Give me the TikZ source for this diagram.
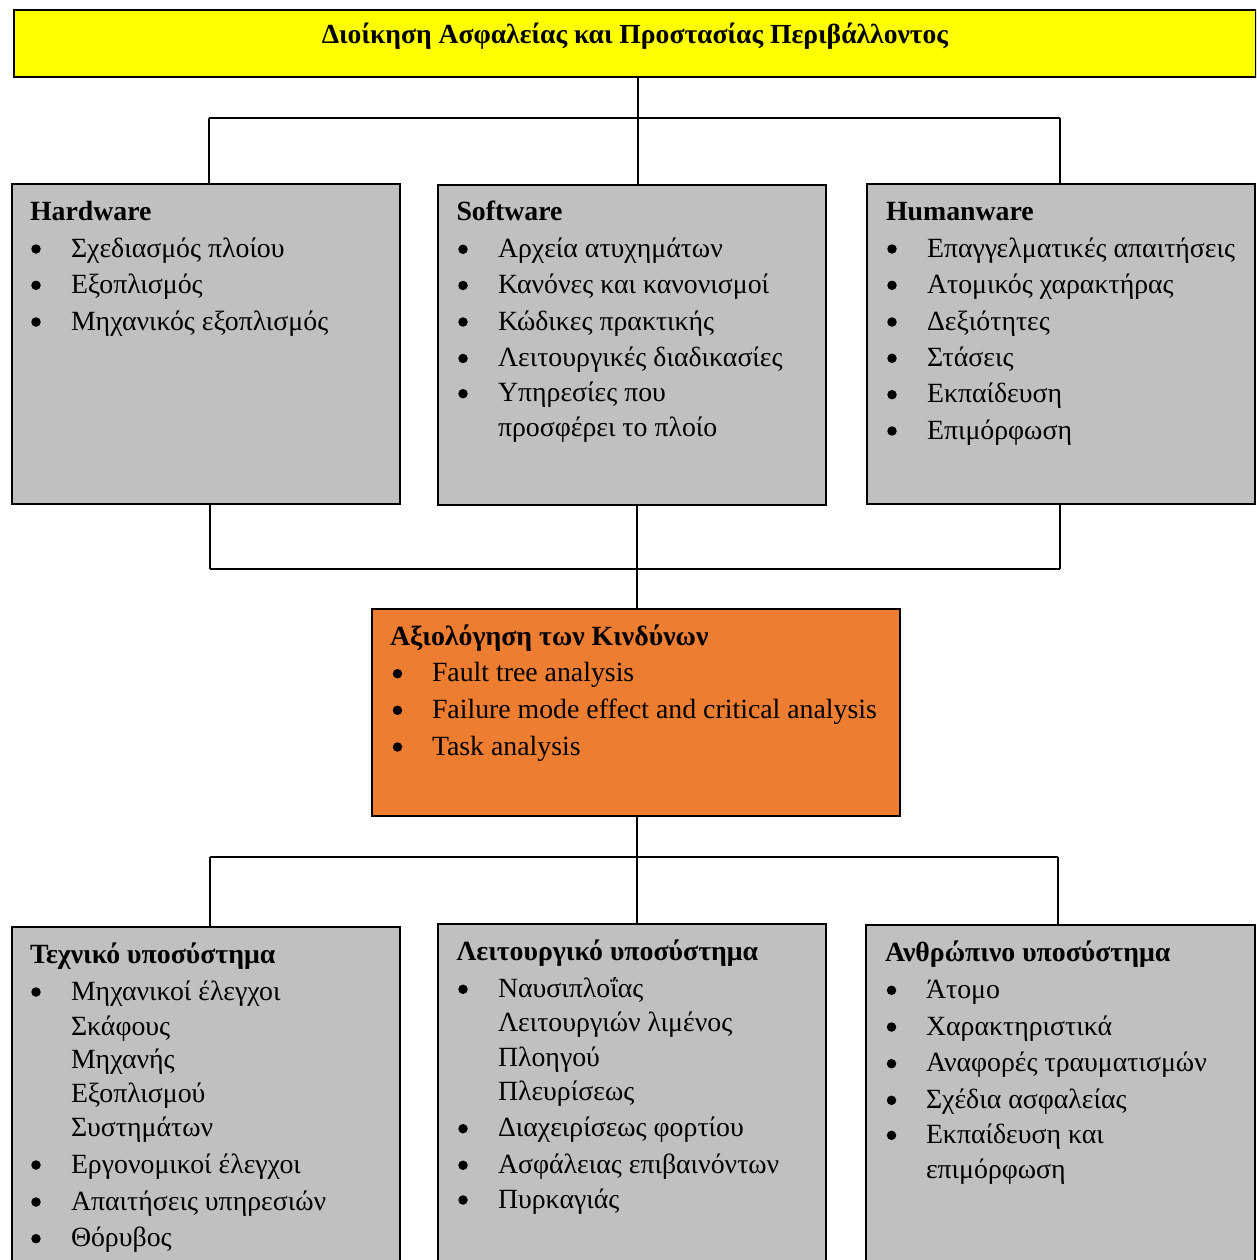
\documentclass[tikz,border=0pt]{standalone}
\usepackage{fontspec}
\setmainfont{Liberation Serif}
\definecolor{boxgray}{HTML}{C0C0C0}
\definecolor{boxorange}{HTML}{ED7D31}
\definecolor{boxyellow}{HTML}{FFFF00}
\newcommand\bodyfnt{\fontsize{27.8}{33}\selectfont}
\newcommand\titlefnt{\fontsize{27.6}{32}\selectfont\bfseries}
\tikzset{
  panel/.style={draw=black, line width=2.4pt, anchor=north west, inner sep=0pt, outer sep=0pt},
  conn/.style={draw=black, line width=2pt},
  txt/.style={anchor=base west, inner sep=0pt, outer sep=0pt, font=\bodyfnt},
  head/.style={anchor=base west, inner sep=0pt, outer sep=0pt, font=\bodyfnt\bfseries},
  bul/.style={circle, fill=black, inner sep=0pt, minimum size=9.5pt},
}
\newcommand\bitem[5]{%
  \node[bul] (#1b) at (#2+6.5,#4-8) {};
  \node[txt] (#1) at (#3,#4) {#5};}
\newcommand\citem[4]{\node[txt] (#1) at (#2,#3) {#4};}
\begin{document}
\begin{tikzpicture}[x=1pt,y=-1pt]
\useasboundingbox (0,0) rectangle (1256,1260);
\clip (0,0) rectangle (1256,1260);
\fill[white] (0,0) rectangle (1256,1260);

% title
\node[panel, fill=boxyellow, line width=2.8pt, minimum width=1242pt, minimum height=67pt] (title) at (14,10) {};
\node[anchor=base, inner sep=0pt, font=\titlefnt] (titletext) at (635,43.5) {Διοίκηση Ασφαλείας και Προστασίας Περιβάλλοντος};

% middle row panels
\node[panel, fill=boxgray, minimum width=388pt, minimum height=320pt] (hw) at (12,184) {};
\node[panel, fill=boxgray, minimum width=388pt, minimum height=320pt] (sw) at (438,185) {};
\node[panel, fill=boxgray, minimum width=388pt, minimum height=320pt] (hu) at (867,184) {};

% orange
\node[panel, fill=boxorange, minimum width=528pt, minimum height=207pt] (ra) at (372,609) {};

% bottom panels
\node[panel, fill=boxgray, minimum width=388pt, minimum height=360pt] (ts) at (12,927) {};
\node[panel, fill=boxgray, minimum width=388pt, minimum height=360pt] (ls) at (438,924) {};
\node[panel, fill=boxgray, minimum width=389pt, minimum height=360pt] (as) at (866,925) {};

% connectors top
\coordinate (b1l) at (209,118);
\coordinate (b1c) at (638,118);
\coordinate (b1r) at (1060,118);
\draw[conn] (b1c |- title.south) -- (b1c);
\draw[conn] (b1l) -- (b1r);
\draw[conn] (b1l) -- (b1l |- hw.north);
\draw[conn] (b1c) -- (b1c |- sw.north);
\draw[conn] (b1r) -- (b1r |- hu.north);

% connectors middle
\coordinate (b2l) at (210,569);
\coordinate (b2c) at (637,569);
\coordinate (b2r) at (1060,569);
\draw[conn] (b2l |- hw.south) -- (b2l);
\draw[conn] (b2r |- hu.south) -- (b2r);
\draw[conn] (b2l) -- (b2r);
\draw[conn] (b2c |- sw.south) -- (b2c |- ra.north);

% connectors bottom
\coordinate (b3l) at (210,857);
\coordinate (b3c) at (637,857);
\coordinate (b3r) at (1058,857);
\draw[conn] (b3c |- ra.south) -- (b3c);
\draw[conn] (b3l) -- (b3r);
\draw[conn] (b3l) -- (b3l |- ts.north);
\draw[conn] (b3c) -- (b3c |- ls.north);
\draw[conn] (b3r) -- (b3r |- as.north);

% Hardware
\node[head] (hwh) at (30,220) {Hardware};
\bitem{hw1}{29.5}{71}{257}{Σχεδιασμός πλοίου}
\bitem{hw2}{29.5}{71}{293.3}{Εξοπλισμός}
\bitem{hw3}{29.5}{71}{330}{Μηχανικός εξοπλισμός}

% Software
\node[head] (swh) at (456.5,220.7) {Software};
\bitem{sw1}{456.5}{498}{257.3}{Αρχεία ατυχημάτων}
\bitem{sw2}{456.5}{498}{293.5}{Κανόνες και κανονισμοί}
\bitem{sw3}{456.5}{498}{330}{Κώδικες πρακτικής}
\bitem{sw4}{456.5}{498}{366.5}{Λειτουργικές διαδικασίες}
\bitem{sw5}{456.5}{498}{401.7}{Υπηρεσίες που}
\citem{sw6}{498}{436.7}{προσφέρει το πλοίο}

% Humanware
\node[head] (huh) at (886,220) {Humanware};
\bitem{hu1}{885.5}{927}{257}{Επαγγελματικές απαιτήσεις}
\bitem{hu2}{885.5}{927}{293.3}{Ατομικός χαρακτήρας}
\bitem{hu3}{885.5}{927}{330}{Δεξιότητες}
\bitem{hu4}{885.5}{927}{366.3}{Στάσεις}
\bitem{hu5}{885.5}{927}{402.7}{Εκπαίδευση}
\bitem{hu6}{885.5}{927}{439}{Επιμόρφωση}

% Risk assessment
\node[head] (rah) at (390,645) {Αξιολόγηση των Κινδύνων};
\bitem{ra1}{391}{432}{681.7}{Fault tree analysis}
\bitem{ra2}{391}{432}{718.3}{Failure mode effect and critical analysis}
\bitem{ra3}{391}{432}{755}{Task analysis}

% Technical subsystem
\node[head] (tsh) at (30,963.3) {Τεχνικό υποσύστημα};
\bitem{ts1}{29.5}{71}{1000}{Μηχανικοί έλεγχοι}
\citem{ts2}{71}{1035}{Σκάφους}
\citem{ts3}{71}{1068.5}{Μηχανής}
\citem{ts4}{71}{1102.7}{Εξοπλισμού}
\citem{ts5}{71}{1136.7}{Συστημάτων}
\bitem{ts6}{29.5}{71}{1173}{Εργονομικοί έλεγχοι}
\bitem{ts7}{29.5}{71}{1210}{Απαιτήσεις υπηρεσιών}
\bitem{ts8}{29.5}{71}{1246.7}{Θόρυβος}

% Operational subsystem
\node[head] (lsh) at (456.5,960) {Λειτουργικό υποσύστημα};
\bitem{ls1}{456.5}{498}{997.3}{Ναυσιπλοΐας}
\citem{ls2}{498}{1031.7}{Λειτουργιών λιμένος}
\citem{ls3}{498}{1066}{Πλοηγού}
\citem{ls4}{498}{1100}{Πλευρίσεως}
\bitem{ls5}{456.5}{498}{1136.7}{Διαχειρίσεως φορτίου}
\bitem{ls6}{456.5}{498}{1173.3}{Ασφάλειας επιβαινόντων}
\bitem{ls7}{456.5}{498}{1208}{Πυρκαγιάς}

% Human subsystem
\node[head] (ash) at (885,961.7) {Ανθρώπινο υποσύστημα};
\bitem{as1}{885}{926}{998.3}{Άτομο}
\bitem{as2}{885}{926}{1035}{Χαρακτηριστικά}
\bitem{as3}{885}{926}{1071.7}{Αναφορές τραυματισμών}
\bitem{as4}{885}{926}{1108.3}{Σχέδια ασφαλείας}
\bitem{as5}{885}{926}{1143.3}{Εκπαίδευση και}
\citem{as6}{926}{1178.3}{επιμόρφωση}
\end{tikzpicture}
\end{document}
